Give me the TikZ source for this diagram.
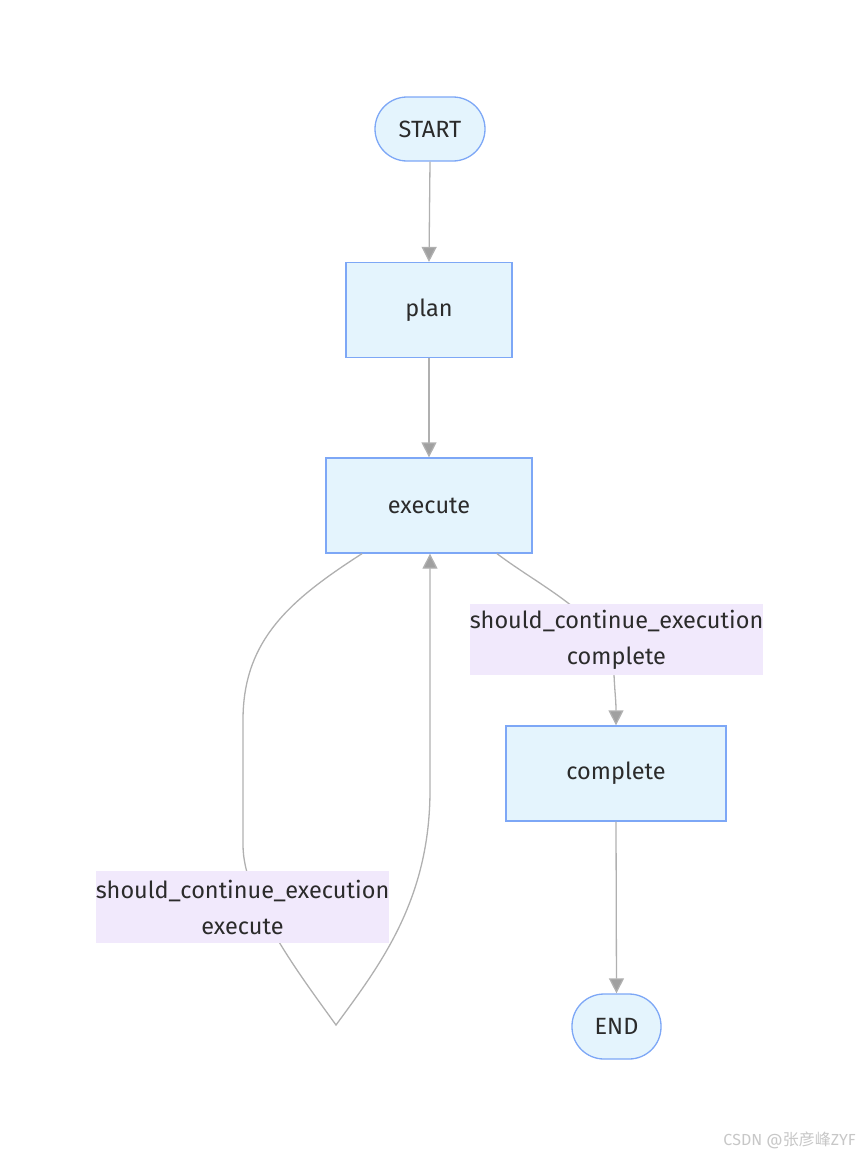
\documentclass[tikz,border=0pt]{standalone}
\usepackage{fontspec}
\setmainfont{Fira Sans}
\newfontfamily\cjkfont{Noto Sans CJK SC}
\usetikzlibrary{arrows.meta}
\definecolor{nodefill}{HTML}{E4F4FD}
\definecolor{nodeline}{HTML}{7DA7F6}
\definecolor{lblfill}{HTML}{F1E9FC}
\definecolor{edgec}{HTML}{B0B0B0}
\definecolor{tipc}{HTML}{A0A0A0}
\definecolor{txt}{HTML}{2B2B2B}
\tikzset{
  x=1pt,y=-1pt,
  base/.style={font=\fontsize{23.5}{28}\selectfont, text=txt, inner sep=0pt},
  boxnode/.style={base, draw=nodeline, fill=nodefill, line width=1.3pt},
  pill/.style={boxnode, rounded corners=32pt},
  lbl/.style={base, fill=lblfill, align=center, font=\fontsize{23.5}{36}\selectfont},
  edge/.style={draw=edgec, line width=1.3pt},
  arr/.style={edge, -{Triangle[width=15pt,length=15pt,fill=tipc]}},
}
\begin{document}
\begin{tikzpicture}
\useasboundingbox (0,0) rectangle (859,1156);
\node[pill, minimum width=110pt, minimum height=64pt] (start) at (430,129) {START};
\node[boxnode, minimum width=166pt, minimum height=95pt] (plan) at (429,310) {plan};
\node[boxnode, minimum width=206pt, minimum height=95pt] (execute) at (429,505.5) {execute};
\node[boxnode, minimum width=220pt, minimum height=95pt] (complete) at (616,773.5) {complete};
\node[pill, minimum width=89pt, minimum height=65pt, rounded corners=32pt] (end) at (616.5,1026.5) {END};

\coordinate (loopturn) at (336,1025);

\draw[arr] (start.south) -- (plan.north);
\draw[arr] (plan.south) -- (execute.north);

% execute -> complete
\draw[arr] ([xshift=68pt]execute.south) .. controls (545,590) and (614,620) .. (614,675) .. controls (615,695) and (616,700) .. (complete.north);

% complete -> END
\draw[arr] (complete.south) -- (end.north);

% loop execute -> execute
\draw[arr] ([xshift=-67pt]execute.south) .. controls (290,600) and (243,640) .. (243,720) -- (243,845) .. controls (243,900) and (300,975) .. (loopturn) .. controls (380,965) and (430,900) .. (430,790) -- ([xshift=1pt]execute.south);

\node[lbl, minimum width=293pt, minimum height=71pt] (l1) at (616.5,639.5) {should\_continue\_execution\\complete};
\node[lbl, minimum width=293pt, minimum height=72pt] (l2) at (242.5,907) {should\_continue\_execution\\execute};

\node[text=black!22, font=\fontsize{16}{18}\selectfont, anchor=east, inner sep=0pt] (wm) at (856,1140) {CSDN @{\cjkfont 张彦峰}ZYF};
\end{tikzpicture}
\end{document}
